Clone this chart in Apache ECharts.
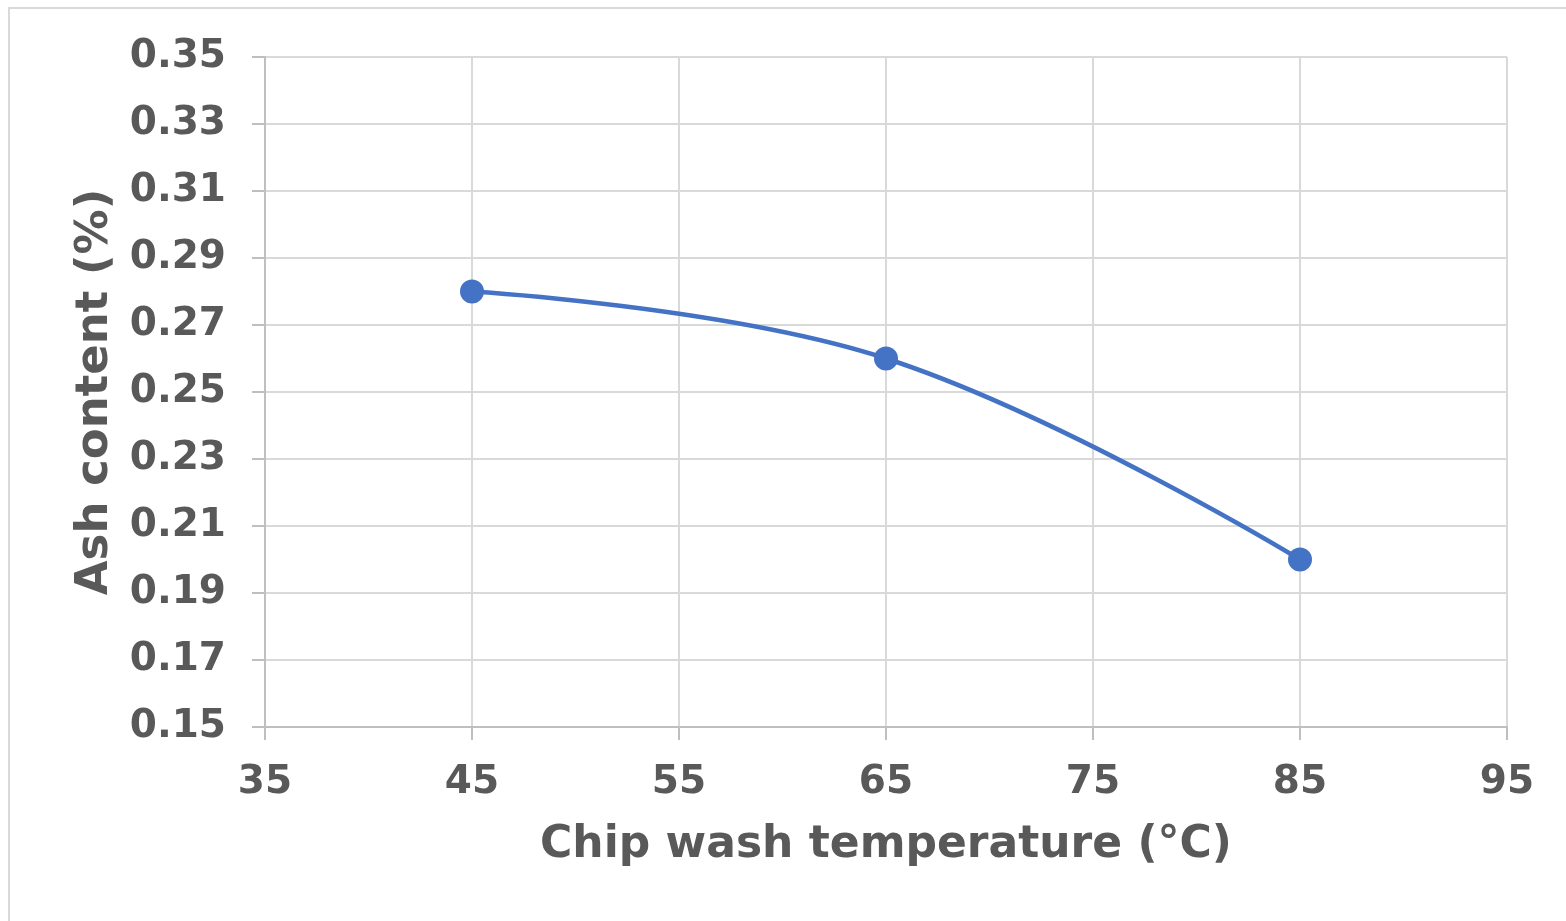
<!DOCTYPE html>
<html><head><meta charset="utf-8">
<script src="https://cdn.jsdelivr.net/npm/echarts@6/dist/echarts.min.js"></script>
<style>html,body{margin:0;padding:0;background:#fff}#c{width:1566px;height:921px}</style>
</head><body><div id="c"></div>
<script>
const temperatures = [45, 65, 85];
const ashContent = [0.28, 0.26, 0.20];
const xTitle = 'Chip wash temperature (°C)';
const yTitle = 'Ash content (%)';

const chart = echarts.init(document.getElementById('c'));
const txt = '#595959';
const font = '"DejaVu Sans", Verdana, sans-serif';
chart.setOption({
  animation: false,
  graphic: [{type:'rect', shape:{x:9, y:8, width:1600, height:1000}, style:{fill:'none', stroke:'#d9d9d9', lineWidth:2}, silent:true}],
  grid: {left: 265, right: 59, top: 57, bottom: 194},
  xAxis: {
    type: 'value', min: 35, max: 95, interval: 10,
    name: xTitle, nameLocation: 'middle', nameGap: 97,
    nameTextStyle: {color: txt, fontSize: 44, fontWeight: 'bold', fontFamily: font},
    axisLine: {show: true, lineStyle: {color: '#bfbfbf', width: 2}},
    axisTick: {show: true, length: 13, lineStyle: {color: '#bfbfbf', width: 2}},
    axisLabel: {color: txt, fontSize: 39, fontWeight: 'bold', fontFamily: font, margin: 36},
    splitLine: {show: true, lineStyle: {color: '#d9d9d9', width: 2}}
  },
  yAxis: {
    type: 'value', min: 0.15, max: 0.35, interval: 0.02,
    name: yTitle, nameLocation: 'middle', nameGap: 147,
    nameTextStyle: {color: txt, fontSize: 45, fontWeight: 'bold', fontFamily: font},
    axisLine: {show: true, lineStyle: {color: '#bfbfbf', width: 2}},
    axisTick: {show: true, length: 13, lineStyle: {color: '#bfbfbf', width: 2}},
    axisLabel: {color: txt, fontSize: 39, fontWeight: 'bold', fontFamily: font, margin: 39,
      formatter: v => v.toFixed(2)},
    splitLine: {show: true, lineStyle: {color: '#d9d9d9', width: 2}}
  },
  series: [{
    type: 'line', smooth: 0.4,
    data: temperatures.map((t, i) => [t, ashContent[i]]),
    symbol: 'circle', symbolSize: 24,
    lineStyle: {color: '#4472C4', width: 4.5},
    itemStyle: {color: '#4472C4'}
  }]
});
</script></body></html>
